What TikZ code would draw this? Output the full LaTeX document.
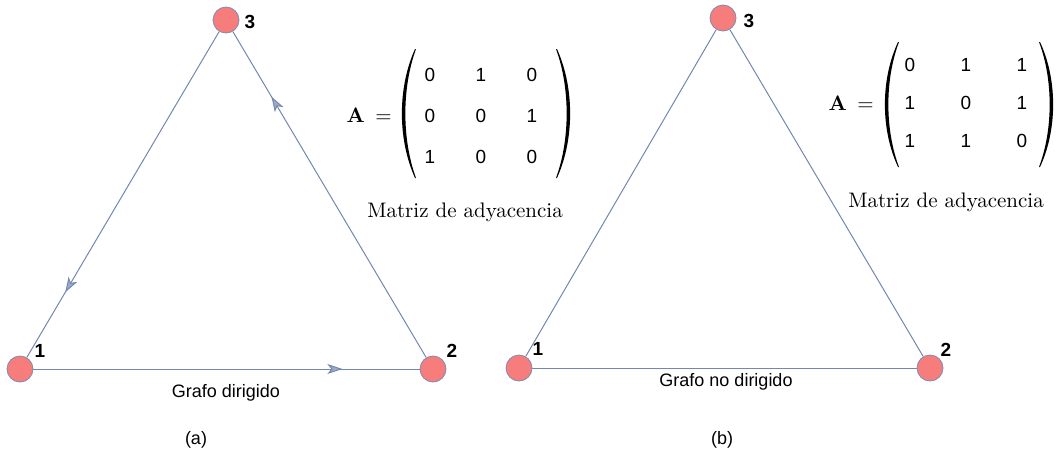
\documentclass[tikz,border=0pt]{standalone}
\usepackage{fontspec}
\setmainfont{Latin Modern Roman}
\newfontfamily\arialfont{Liberation Sans}
\newfontfamily\cmten{lmroman10-regular}[Extension=.otf,BoldFont=lmroman10-bold]
\usetikzlibrary{arrows.meta,matrix,decorations.markings}
\definecolor{edgeBlue}{RGB}{115,135,175}
\definecolor{vtxRed}{RGB}{247,124,124}
\definecolor{vtxRim}{RGB}{125,140,175}
\tikzset{
  vtx/.style={circle,fill=vtxRed,draw=vtxRim,line width=0.8pt,minimum size=26pt,inner sep=0pt},
  vlbl/.style={font=\arialfont\bfseries\fontsize{19}{19}\selectfont,inner sep=0pt},
  edg/.style={draw=edgeBlue,line width=1pt},
  diredg/.style={edg,postaction={decorate},
    decoration={markings,mark=at position 0.8 with {\arrow[edgeBlue]{Stealth[length=15pt,width=10pt,inset=4pt,fill=edgeBlue!70]}}}},
  grafocap/.style={font=\arialfont\fontsize{18}{18}\selectfont,inner sep=0pt},
  adj/.style={matrix of nodes,nodes={minimum size=20pt,inner sep=0pt,font=\arialfont\fontsize{19}{19}\selectfont}},
  mtxt/.style={font=\cmten\fontsize{21}{21}\selectfont,inner sep=0pt}
}
% parentesis grande: x de la punta, lado (-1 izq., 1 der.), y arriba, y abajo
\newcommand{\matparen}[4]{%
  \fill[black] (#1,#3) .. controls ({#1+#2*17.5},{#3+0.3*(#4-#3)}) and ({#1+#2*17.5},{#4-0.3*(#4-#3)}) .. (#1,#4)
    -- ({#1-#2*1},#4) .. controls ({#1+#2*13.2},{#4-0.3*(#4-#3)}) and ({#1+#2*13.2},{#3+0.3*(#4-#3)}) .. ({#1-#2*1},#3) -- cycle;}
\begin{document}
\begin{tikzpicture}[x=1pt,y=-1pt]
  \useasboundingbox (0,0) rectangle (1056,456);
  % (a) grafo dirigido
  \node[vtx] (a1) at (20,369) {};
  \node[vtx] (a2) at (433,369) {};
  \node[vtx] (a3) at (226,20) {};
  \node[vlbl] (a1l) at (40,351) {1};
  \node[vlbl] (a2l) at (452,351) {2};
  \node[vlbl] (a3l) at (250,22) {3};
  \draw[diredg] (a1) -- (a2);
  \draw[diredg] (a2) -- (a3);
  \draw[diredg] (a3) -- (a1);
  \node[grafocap] (acap) at (226,393) {Grafo dirigido};
  \node[grafocap] (atag) at (196,440) {(a)};
  % matriz (a)
  \matrix[adj,row sep=21pt,column sep=31pt] (ma) at (481,116) {
    0 & 1 & 0 \\
    0 & 0 & 1 \\
    1 & 0 & 0 \\
  };
  \matparen{415}{-1}{49}{178}
  \matparen{557}{1}{49}{178}
  \node[mtxt,anchor=east] (aeq) at (392,115) {\textbf{A}\hspace{0.5em}=};
  \node[mtxt] (amat) at (465,212) {Matriz de adyacencia};
  % (b) grafo no dirigido
  \node[vtx] (b1) at (519,368) {};
  \node[vtx] (b2) at (930,368) {};
  \node[vtx] (b3) at (723,18) {};
  \node[vlbl] (b1l) at (538,349) {1};
  \node[vlbl] (b2l) at (946,350) {2};
  \node[vlbl] (b3l) at (749,21) {3};
  \draw[edg] (b1) -- (b2);
  \draw[edg] (b2) -- (b3);
  \draw[edg] (b3) -- (b1);
  \node[grafocap] (bcap) at (726,382) {Grafo no dirigido};
  \node[grafocap] (btag) at (722,440) {(b)};
  % matriz (b)
  \matrix[adj,row sep=18pt,column sep=36pt] (mb) at (966,103) {
    0 & 1 & 1 \\
    1 & 0 & 1 \\
    1 & 1 & 0 \\
  };
  \matparen{898}{-1}{42}{167}
  \matparen{1040}{1}{42}{167}
  \node[mtxt,anchor=east] (beq) at (874,103) {\textbf{A}\hspace{0.5em}=};
  \node[mtxt] (bmat) at (946,202) {Matriz de adyacencia};
\end{tikzpicture}
\end{document}
